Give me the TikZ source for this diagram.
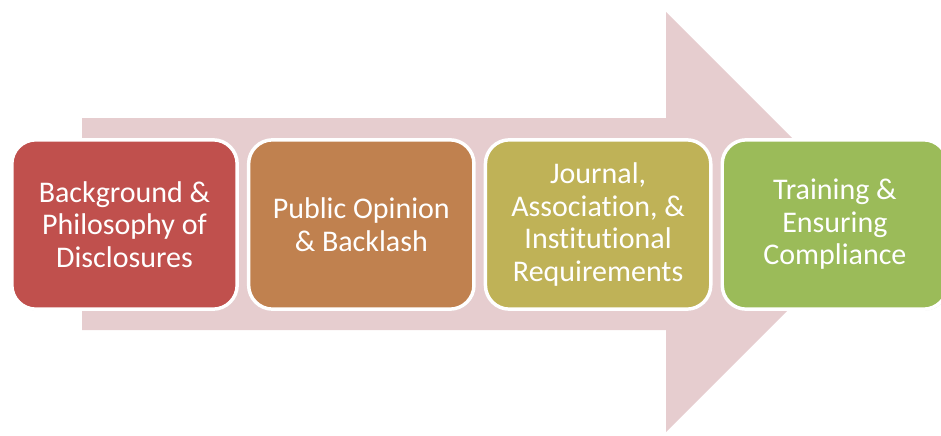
\documentclass[tikz,border=0pt]{standalone}
\usepackage{fontspec}
\setmainfont{Carlito}[Ligatures=NoCommon]
\usepackage{xcolor}
\usetikzlibrary{positioning,shadows}

\definecolor{arrowpink}{HTML}{E6CDCF}
\definecolor{stepred}{HTML}{C0504D}
\definecolor{steporange}{HTML}{C0814F}
\definecolor{stepolive}{HTML}{BFB257}
\definecolor{stepgreen}{HTML}{9BBB59}

\tikzset{
  stepbox/.style={draw=white, line width=2.6pt, rounded corners=18pt,
    minimum width=169pt, minimum height=127pt, inner sep=2pt,
    align=center, text=white,
    font=\fontsize{22.5pt}{24.4pt}\selectfont,
    drop shadow={opacity=0.25, shadow xshift=0.8pt, shadow yshift=-1pt}}
}

\begin{document}
\begin{tikzpicture}[x=0.75pt,y=0.75pt,yscale=-1,xscale=1]
\useasboundingbox (0,0) rectangle (941,435);
\clip (0,0) rectangle (941,435);
%Shape: Right Arrow
\fill [arrowpink] (82,118) -- (666,118) -- (666,12) -- (876,222) -- (666,432) -- (666,330) -- (82,330) -- cycle ;

% Text Node
\node [stepbox, fill=stepred] (bkg) at (124.5,224.5) {Background \&\\Philosophy of\\Disclosures};
% Text Node
\node [stepbox, fill=steporange, right=6pt of bkg] (opinion) {Public Opinion\\\& Backlash};
% Text Node
\node [stepbox, fill=stepolive, right=6pt of opinion] (reqs) {Journal,\\Association, \&\\Institutional\\Requirements};
% Text Node
\node [stepbox, fill=stepgreen, right=6pt of reqs] (training) {Training \&\\Ensuring\\Compliance};
\end{tikzpicture}
\end{document}
